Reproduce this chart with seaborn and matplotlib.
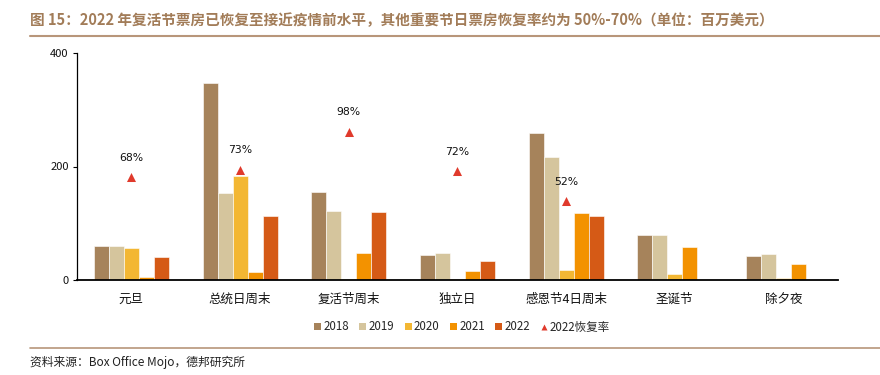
import numpy as np
import pandas as pd
import matplotlib
matplotlib.use("Agg")
import matplotlib.pyplot as plt
from matplotlib.lines import Line2D
from matplotlib.patches import Patch
import seaborn as sns

categories = ["元旦", "总统日周末", "复活节周末", "独立日", "感恩节4日周末", "圣诞节", "除夕夜"]
years = ["2018", "2019", "2020", "2021", "2022"]
v2018 = [60, 347, 155, 44, 259, 79, 42]
v2019 = [60, 153, 122, 47, 217, 79, 45]
v2020 = [57, 183, 2, 2, 18, 11, 3.5]
v2021 = [5, 14, 48, 15, 118, 58, 29]
v2022 = [41, 112, 120, 34, 112, np.nan, np.nan]
recovery = [0.68, 0.73, 0.98, 0.72, 0.52, np.nan, np.nan]
recovery_labels = ["68%", "73%", "98%", "72%", "52%", "", ""]
yticks = [0, 200, 400]

colors = ["#A6835B", "#D5C59D", "#F3B733", "#F39200", "#D55A16"]
red = "#E03A2C"
title_color = "#A27C58"
line_color = "#B8967A"

sns.set_theme(style="white")
plt.rcParams["font.family"] = ["Noto Sans CJK SC", "DejaVu Sans"]

rows = []
for y, vals in zip(years, [v2018, v2019, v2020, v2021, v2022]):
    for c, v in zip(categories, vals):
        rows.append({"cat": c, "year": y, "val": v})
df = pd.DataFrame(rows)

fig = plt.figure(figsize=(8.8, 3.75), dpi=100)
ax = fig.add_axes([0.0875, 0.2533, 0.8645, 0.6054])

sns.barplot(data=df, x="cat", y="val", hue="year", order=categories,
            hue_order=years, palette=colors, width=0.69, saturation=1,
            edgecolor="#FFFFFF", linewidth=0.4, ax=ax, legend=False)

ax.set_xlim(-0.5, len(categories) - 0.5)
ax.set_ylim(0, 400)
ax.set_yticks(yticks)
ax.set_xlabel("")
ax.set_ylabel("")
for s in ["top", "right"]:
    ax.spines[s].set_visible(False)
ax.spines["left"].set_color("black")
ax.spines["left"].set_linewidth(0.9)
ax.spines["bottom"].set_color("black")
ax.spines["bottom"].set_linewidth(1.3)
ax.tick_params(axis="y", which="both", left=True, length=3, width=0.8,
               color="black", labelsize=8, pad=3, labelcolor="#111111")
ax.tick_params(axis="x", bottom=False, labelsize=9, pad=3, labelcolor="#111111")

ax2 = ax.twinx()
rdf = pd.DataFrame({"cat": categories, "rate": recovery})
sns.stripplot(data=rdf, x="cat", y="rate", order=categories, jitter=False,
              marker="^", color=red, size=6.5, linewidth=0, ax=ax2)
ax2.set_ylim(0, 1.5)
ax2.set_xlim(-0.5, len(categories) - 0.5)
ax2.axis("off")
for i, (r, lab) in enumerate(zip(recovery, recovery_labels)):
    if lab:
        ax2.annotate(lab, (i, r), xytext=(0, 14), textcoords="offset points",
                     ha="center", va="center", fontsize=7.8, color="#111111",
                     family=["DejaVu Sans"])

handles = [Patch(facecolor=c, edgecolor="none", label=y) for c, y in zip(colors, years)]
handles.append(Line2D([0], [0], marker="^", color="none", markerfacecolor=red,
                      markeredgecolor="none", markersize=5, label="2022恢复率"))
fig.legend(handles=handles, loc="center", bbox_to_anchor=(0.525, 0.128), ncol=6,
           frameon=False, fontsize=8.3, handlelength=0.6, handleheight=0.6,
           handletextpad=0.2, columnspacing=0.9)

fig.text(0.034, 0.947, "图 15：2022 年复活节票房已恢复至接近疫情前水平，其他重要节日票房恢复率约为 50%-70%（单位：百万美元）",
         fontsize=10.5, fontweight="bold", color=title_color, ha="left", va="center")
fig.add_artist(Line2D([0.034, 1.0], [0.905, 0.905], color=line_color, linewidth=1.5,
                      transform=fig.transFigure))
fig.add_artist(Line2D([0.034, 1.0], [0.072, 0.072], color=line_color, linewidth=1.2,
                      transform=fig.transFigure))
fig.text(0.034, 0.033, "资料来源：Box Office Mojo，德邦研究所", fontsize=8.5,
         color="#222222", ha="left", va="center")

fig.savefig("out.png", dpi=100)
